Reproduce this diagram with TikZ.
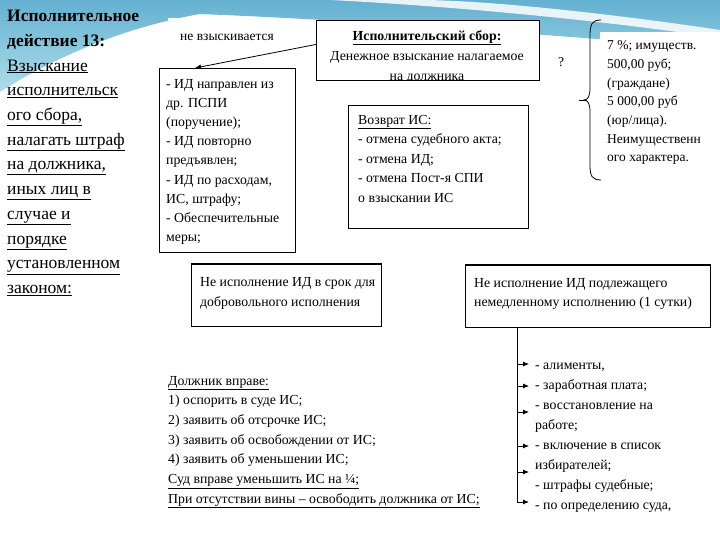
\documentclass[tikz,border=0pt]{standalone}
\usepackage{fontspec}
\setmainfont{Liberation Serif}
\usetikzlibrary{arrows.meta,calc}
\definecolor{blueA}{RGB}{100,176,208}
\definecolor{blueB}{RGB}{175,222,236}
\newcommand\fl{\rule{0pt}{0.8em}}
\tikzset{
  box/.style={draw=black, line width=0.9pt, fill=white, inner sep=0pt, anchor=north west},
  txt/.style={inner sep=0pt, anchor=north west, align=left},
  conn/.style={draw=black, line width=0.8pt},
  tip/.style={-{Latex[length=6pt,width=5pt]}},
}
\begin{document}
\begin{tikzpicture}[x=1pt,y=-1pt]
\useasboundingbox (0,0) rectangle (720,540);
\fill[white] (0,0) rectangle (720,540);
% background wave
\shade[top color=blueA, bottom color=blueB]
  (0,0) -- (720,0) -- (720,48) .. controls (600,40) and (400,22) .. (200,14)
  .. controls (120,28) and (50,60) .. (0,92) -- cycle;
\fill[white,opacity=0.85] (330,0) .. controls (450,6) and (600,20) .. (720,38)
  -- (720,30) .. controls (600,12) and (480,0) .. (420,0) -- cycle;
% white patches
\fill[white] (168,18) rectangle (285,55);
\fill[white] (600,32) rectangle (720,186);

% left title
\node[txt, font=\fontsize{17.5}{24.7}\selectfont] (title) at (7,7.5)
 {\fl\textbf{Исполнительное}\\
  \textbf{действие 13:}\\
  \underline{Взыскание}\\
  \underline{исполнительск}\\
  \underline{ого сбора,}\\
  \underline{налагать штраф}\\
  \underline{на должника,}\\
  \underline{иных лиц в}\\
  \underline{случае и}\\
  \underline{порядке}\\
  \underline{установленном}\\
  \underline{законом:}};

% не взыскивается
\node[inner sep=0pt, anchor=base, font=\fontsize{13.5}{16}\selectfont] (nvz) at (227,40.5) {не взыскивается};

% Исполнительский сбор
\node[box, minimum width=223, minimum height=60] (sbor) at (316,20) {};
\begin{scope}
\clip (316,20) rectangle (539,80);
\node[inner sep=0pt, anchor=north, align=center, font=\fontsize{13.8}{20}\selectfont] (sbortxt) at (427,28.8)
 {\fl\underline{\textbf{Исполнительский сбор:}}\\
  Денежное взыскание налагаемое\\
  на должника};
\end{scope}
\draw[line width=0.9pt] (sbor.north west) rectangle (sbor.south east);

% ИД box
\node[box, minimum width=136, minimum height=184] (idbox) at (159,68) {};
\node[txt, font=\fontsize{13.8}{19.2}\selectfont] (idtxt) at (166,76.8)
 {\fl- ИД направлен из\\
  др. ПСПИ\\
  (поручение);\\
  - ИД повторно\\
  предъявлен;\\
  - ИД по расходам,\\
  ИС, штрафу;\\
  - Обеспечительные\\
  меры;};

\draw[conn, tip] ($(sbor.west)+(0,-6)$) -- ($(idbox.north west)+(36,0)$);

% Возврат ИС
\node[box, minimum width=180, minimum height=123] (vozv) at (348,105) {};
\node[txt, font=\fontsize{13.8}{19.6}\selectfont] (vozvtxt) at (358,112.8)
 {\fl\underline{Возврат ИС:}\\
  - отмена судебного акта;\\
  - отмена ИД;\\
  - отмена Пост-я СПИ\\
  о взыскании ИС};

% ?
\node[inner sep=0pt, anchor=base, font=\fontsize{13.5}{16}\selectfont] (q) at (561,66.5) {?};

% brace
\draw[line width=0.8pt] (601,20) .. controls (592,20) and (590,24) .. (590,36)
  -- (590,88) .. controls (590,96) and (588,100) .. (584,100)
  .. controls (588,100) and (590,104) .. (590,112)
  -- (590,165) .. controls (590,176) and (592,180) .. (601,180);
\draw[line width=1.5pt] (579,100.5) -- (586,100.5);
\node[txt, font=\fontsize{13.5}{18.7}\selectfont] (rtxt) at (607,38.8)
 {\fl 7 \%; имуществ.\\
  500,00 руб;\\
  (граждане)\\
  5 000,00 руб\\
  (юр/лица).\\
  Неимущественн\\
  ого характера.};

% bottom boxes
\node[box, minimum width=190, minimum height=62] (b1) at (191,264) {};
\draw[line width=2pt] (b1.north west) -- (b1.north east);
\node[txt, font=\fontsize{13.8}{20}\selectfont] (b1txt) at (200,274.8)
 {\fl Не исполнение ИД в срок для\\
  добровольного исполнения};

\node[box, minimum width=245, minimum height=62] (b2) at (465,265) {};
\draw[line width=2pt] (b2.north west) -- (b2.north east);
\node[txt, font=\fontsize{13.8}{19.5}\selectfont] (b2txt) at (474,275.8)
 {\fl Не исполнение ИД подлежащего\\
  немедленному исполнению (1 сутки)};

% debtor rights
\node[txt, font=\fontsize{13.8}{19.7}\selectfont] (rights) at (168,373.8)
 {\fl\underline{Должник вправе:}\\
  1) оспорить в суде ИС;\\
  2) заявить об отсрочке ИС;\\
  3) заявить об освобождении от ИС;\\
  4) заявить об уменьшении ИС;\\
  \underline{Суд вправе уменьшить ИС на ¼;}\\
  \underline{При отсутствии вины – освободить должника от ИС;}};

% immediate list
\node[txt, font=\fontsize{13.8}{20}\selectfont] (imm) at (535,357.8)
 {\fl- алименты,\\
  - заработная плата;\\
  - восстановление на\\
  работе;\\
  - включение в список\\
  избирателей;\\
  - штрафы судебные;\\
  - по определению суда,};

\coordinate (trunk) at ($(b2.south west)+(52,0)$);
\coordinate (a1) at (529,364);
\coordinate (a2) at (529,386);
\coordinate (a3) at (529,412);
\coordinate (a4) at (529,446);
\coordinate (a5) at (529,472);
\coordinate (a6) at (529,502);
\draw[conn, tip] (trunk) |- (a6);
\foreach \a in {a1,a2,a3,a4,a5}{
  \draw[conn, tip] (trunk |- \a) -- (\a);
}
\end{tikzpicture}
\end{document}
